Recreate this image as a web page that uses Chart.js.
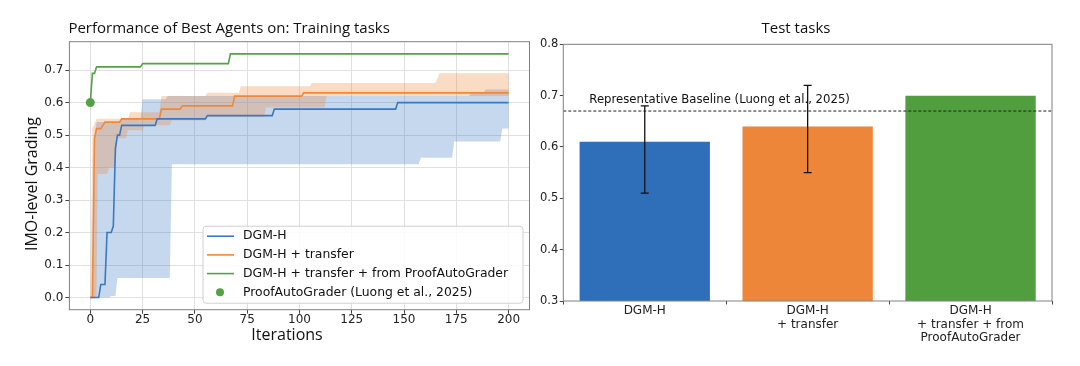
<!DOCTYPE html>
<html>
<head>
<meta charset="utf-8">
<title>DGM-H - training and test tasks</title>
<script src="https://cdn.jsdelivr.net/npm/chart.js"></script>
<style>
    body { margin: 0; background: #fff; }
    #wrap { position: relative; width: 1080px; height: 366px; }
    canvas { position: absolute; top: 0; }
    #trainChart { left: 0; }
    #testChart { left: 540px; }
</style>
</head>
<body>
<div id="wrap">
    <canvas id="trainChart" width="540" height="366"></canvas>
    <canvas id="testChart" width="540" height="366"></canvas>
</div>
<script>
// ---- left panel: best agent score per iteration, [iteration, score] ----
var iterTicks = [0, 25, 50, 75, 100, 125, 150, 175, 200];
var gradeTicksLeft = [0, 0.1, 0.2, 0.3, 0.4, 0.5, 0.6, 0.7];

var dgmH = [[0,0],[4,0],[5,0.04],[7,0.04],[8,0.2],[10,0.2],[11,0.22],[12,0.46],[13,0.5],[14,0.5],[15,0.53],[31,0.53],[32,0.55],[55,0.55],[56,0.56],[87,0.56],[88,0.58],[146,0.58],[147,0.6],[200,0.6]];
var dgmHLow = [[0,0],[9,0],[10,0.005],[12,0.005],[13,0.06],[38,0.06],[39,0.41],[157,0.41],[158,0.43],[173,0.43],[174,0.48],[196,0.48],[197,0.52],[200,0.52]];
var dgmHHigh = [[0,0],[1,0],[2,0.5],[3,0.54],[14,0.54],[15,0.55],[24,0.55],[25,0.61],[36,0.61],[37,0.62],[181,0.62],[182,0.63],[188,0.63],[189,0.64],[200,0.64]];

var transfer = [[0,0],[1,0],[2,0.49],[3,0.52],[5,0.52],[6,0.53],[7,0.54],[14,0.54],[15,0.55],[33,0.55],[34,0.58],[43,0.58],[44,0.59],[68,0.59],[69,0.62],[101,0.62],[102,0.63],[200,0.63]];
var transferLow = [[0,0],[3,0],[3.5,0.38],[8,0.38],[9,0.4],[12,0.4],[13,0.49],[17,0.49],[18,0.515],[25,0.515],[26,0.53],[38,0.53],[39,0.545],[55,0.545],[56,0.555],[83,0.555],[84,0.585],[112,0.585],[113,0.62],[200,0.62]];
var transferHigh = [[0,0],[1,0.52],[3,0.55],[18,0.55],[19,0.57],[33,0.57],[34,0.62],[55,0.62],[56,0.63],[71,0.63],[72,0.65],[105,0.65],[106,0.66],[165,0.66],[167,0.69],[200,0.69]];

var fromPAG = [[0,0.6],[1,0.69],[2,0.69],[3,0.71],[24,0.71],[25,0.72],[66,0.72],[67,0.75],[200,0.75]];
var pagScore = [[0,0.6]];

// ---- right panel: test tasks ----
var testLabels = [['DGM-H'], ['DGM-H', '+ transfer'], ['DGM-H', '+ transfer + from', 'ProofAutoGrader']];
var testScores = [0.61, 0.64, 0.70];
var testErrLow = [0.51, 0.55, null];
var testErrHigh = [0.68, 0.72, null];
var baselineScore = 0.67;
var gradeTicksRight = [0.3, 0.4, 0.5, 0.6, 0.7, 0.8];

var BLUE = '#3a78c4', ORANGE = '#f0883a', GREEN = '#55a146';
var TITLE_FONT = '"Open Sans", "Noto Sans", sans-serif';

Chart.defaults.font.family = '"DejaVu Sans", sans-serif';
Chart.defaults.color = '#222';

function pts(arr) {
    return arr.map(function (p) { return {x: p[0], y: p[1]}; });
}

// shaded spread bands, frame, titles and legend for the training panel
var trainDecor = {
    id: 'trainDecor',
    beforeDatasetsDraw: function (chart) {
        var ctx = chart.ctx, xs = chart.scales.x, ys = chart.scales.y, a = chart.chartArea;
        var bands = [
            {hi: dgmHHigh, lo: dgmHLow, color: 'rgba(58,120,196,0.29)'},
            {hi: transferHigh, lo: transferLow, color: 'rgba(240,136,58,0.3)'}
        ];
        ctx.save();
        ctx.beginPath();
        ctx.rect(a.left, a.top, a.width, a.height);
        ctx.clip();
        bands.forEach(function (b) {
            ctx.beginPath();
            b.hi.forEach(function (p, i) {
                var px = xs.getPixelForValue(p[0]), py = ys.getPixelForValue(p[1]);
                if (i) ctx.lineTo(px, py); else ctx.moveTo(px, py);
            });
            b.lo.slice().reverse().forEach(function (p) {
                ctx.lineTo(xs.getPixelForValue(p[0]), ys.getPixelForValue(p[1]));
            });
            ctx.closePath();
            ctx.fillStyle = b.color;
            ctx.fill();
        });
        ctx.restore();
    },
    afterDraw: function (chart) {
        var ctx = chart.ctx, a = chart.chartArea;
        ctx.save();
        // frame
        ctx.strokeStyle = '#808080';
        ctx.lineWidth = 1;
        ctx.strokeRect(a.left, a.top, a.width, a.height);

        // titles
        ctx.fillStyle = '#111';
        ctx.textBaseline = 'middle';
        ctx.textAlign = 'left';
        ctx.font = '15px ' + TITLE_FONT;
        ctx.fillText('Performance of Best Agents on: Training tasks', a.left - 1, 29);
        ctx.textAlign = 'center';
        ctx.font = '16px ' + TITLE_FONT;
        ctx.fillText('Iterations', 287, 335);
        ctx.save();
        ctx.translate(32, 184);
        ctx.rotate(-Math.PI / 2);
        ctx.fillText('IMO-level Grading', 0, 0);
        ctx.restore();

        // legend
        var bw = 320, bh = 77;
        var bx = a.right - 6.5 - bw, by = a.bottom - 6.5 - bh;
        ctx.beginPath();
        ctx.roundRect(bx, by, bw, bh, 3);
        ctx.fillStyle = 'rgba(255,255,255,0.85)';
        ctx.fill();
        ctx.strokeStyle = '#d0d0d0';
        ctx.stroke();
        ctx.font = '12.4px "DejaVu Sans"';
        ctx.textAlign = 'left';
        chart.data.datasets.forEach(function (ds, i) {
            var y = by + 10 + i * 18.7;
            if (ds.showLine === false) {
                ctx.beginPath();
                ctx.arc(bx + 17, y, 4, 0, Math.PI * 2);
                ctx.fillStyle = ds.backgroundColor;
                ctx.fill();
            } else {
                ctx.beginPath();
                ctx.moveTo(bx + 4, y);
                ctx.lineTo(bx + 31, y);
                ctx.strokeStyle = ds.borderColor;
                ctx.lineWidth = ds.borderWidth;
                ctx.stroke();
            }
            ctx.fillStyle = '#111';
            ctx.fillText(ds.label, bx + 40, y);
        });
        ctx.restore();
    }
};

// baseline, error bars, frame and title for the test panel
var testDecor = {
    id: 'testDecor',
    afterDatasetsDraw: function (chart) {
        var ctx = chart.ctx, xs = chart.scales.x, ys = chart.scales.y, a = chart.chartArea;
        ctx.save();
        var yb = ys.getPixelForValue(baselineScore);
        ctx.strokeStyle = '#222';
        ctx.lineWidth = 1;
        ctx.setLineDash([3, 2]);
        ctx.beginPath();
        ctx.moveTo(a.left, yb);
        ctx.lineTo(a.right, yb);
        ctx.stroke();
        ctx.setLineDash([]);
        ctx.fillStyle = '#111';
        ctx.font = '11.7px "DejaVu Sans"';
        ctx.textBaseline = 'middle';
        ctx.textAlign = 'left';
        ctx.fillText('Representative Baseline (Luong et al., 2025)', a.left + 26, yb - 11);

        ctx.strokeStyle = '#111';
        ctx.lineWidth = 1.3;
        testErrLow.forEach(function (lo, i) {
            if (lo == null) return;
            var x = xs.getPixelForValue(i);
            var y1 = ys.getPixelForValue(lo), y2 = ys.getPixelForValue(testErrHigh[i]);
            ctx.beginPath();
            ctx.moveTo(x, y1); ctx.lineTo(x, y2);
            ctx.moveTo(x - 4, y1); ctx.lineTo(x + 4, y1);
            ctx.moveTo(x - 4, y2); ctx.lineTo(x + 4, y2);
            ctx.stroke();
        });
        ctx.restore();
    },
    afterDraw: function (chart) {
        var ctx = chart.ctx, a = chart.chartArea;
        ctx.save();
        ctx.strokeStyle = '#808080';
        ctx.lineWidth = 1;
        ctx.strokeRect(a.left, a.top, a.width, a.height);
        ctx.fillStyle = '#111';
        ctx.textAlign = 'center';
        ctx.textBaseline = 'middle';
        ctx.font = '15px ' + TITLE_FONT;
        ctx.fillText('Test tasks', 256, 29);
        ctx.restore();
    }
};

window.onload = function () {
    new Chart(document.getElementById('trainChart'), {
        type: 'line',
        data: {
            datasets: [
                {label: 'DGM-H', data: pts(dgmH), borderColor: BLUE, borderWidth: 1.6, pointRadius: 0, tension: 0},
                {label: 'DGM-H + transfer', data: pts(transfer), borderColor: ORANGE, borderWidth: 1.6, pointRadius: 0, tension: 0},
                {label: 'DGM-H + transfer + from ProofAutoGrader', data: pts(fromPAG), borderColor: GREEN, borderWidth: 1.6, pointRadius: 0, tension: 0},
                {label: 'ProofAutoGrader (Luong et al., 2025)', data: pts(pagScore), showLine: false, pointRadius: 4.5,
                    backgroundColor: GREEN, borderColor: GREEN, pointBorderWidth: 0}
            ]
        },
        options: {
            responsive: false,
            animation: false,
            layout: {padding: {left: 0, right: 10.5, top: 41.7, bottom: 0}},
            plugins: {legend: {display: false}, tooltip: {enabled: false}},
            scales: {
                x: {
                    type: 'linear', min: -10, max: 210,
                    afterBuildTicks: function (s) { s.ticks = iterTicks.map(function (v) { return {value: v}; }); },
                    afterFit: function (s) { s.height = 56.3; },
                    grid: {color: '#e0e0e0', tickColor: '#444', tickLength: 4},
                    border: {display: false},
                    ticks: {font: {size: 12, lineHeight: 1}, padding: 0, color: '#222', maxRotation: 0}
                },
                y: {
                    min: -0.0375, max: 0.7875,
                    afterBuildTicks: function (s) { s.ticks = gradeTicksLeft.map(function (v) { return {value: v}; }); },
                    afterFit: function (s) { s.width = 69.4; },
                    grid: {color: '#e0e0e0', tickColor: '#444', tickLength: 4},
                    border: {display: false},
                    ticks: {font: {size: 12}, padding: 2, color: '#222', callback: function (v) { return v.toFixed(1); }}
                }
            }
        },
        plugins: [trainDecor]
    });

    new Chart(document.getElementById('testChart'), {
        type: 'bar',
        data: {
            labels: testLabels,
            datasets: [{
                data: testScores,
                backgroundColor: ['#2f6eb8', '#ee8639', '#519e3e'],
                barPercentage: 0.8,
                categoryPercentage: 1.0
            }]
        },
        options: {
            responsive: false,
            animation: false,
            layout: {padding: {left: 0, right: 28, top: 44.3, bottom: 0}},
            plugins: {legend: {display: false}, tooltip: {enabled: false}},
            scales: {
                x: {
                    afterFit: function (s) { s.height = 65; },
                    grid: {drawOnChartArea: false, tickColor: '#444', tickLength: 3.5, offset: true},
                    border: {display: false},
                    ticks: {font: {size: 12, lineHeight: 1.11}, padding: 0, color: '#222', maxRotation: 0}
                },
                y: {
                    min: 0.3, max: 0.8,
                    afterBuildTicks: function (s) { s.ticks = gradeTicksRight.map(function (v) { return {value: v}; }); },
                    afterFit: function (s) { s.width = 23.3; },
                    grid: {drawOnChartArea: false, tickColor: '#444', tickLength: 3.5},
                    border: {display: false},
                    ticks: {font: {size: 11.5}, padding: 1.5, color: '#222', callback: function (v) { return v.toFixed(1); }}
                }
            }
        },
        plugins: [testDecor]
    });
};
</script>
</body>
</html>
